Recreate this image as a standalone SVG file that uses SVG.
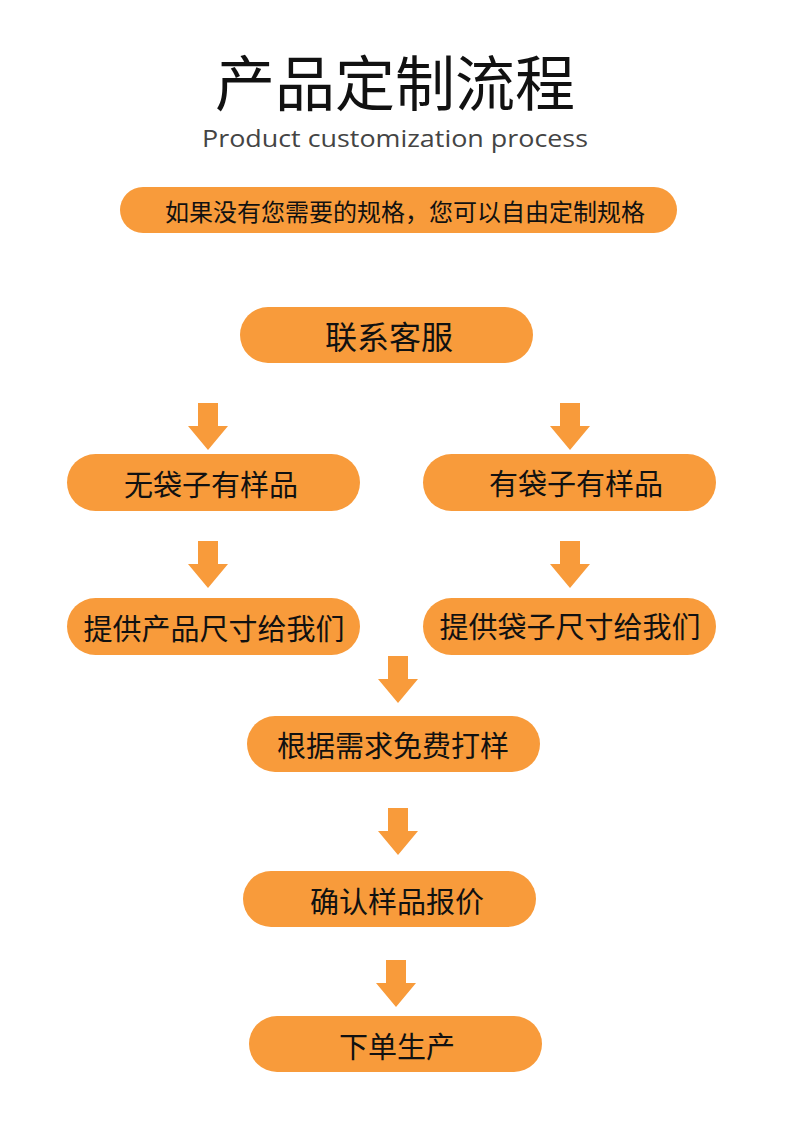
<svg xmlns="http://www.w3.org/2000/svg" width="790" height="1134" viewBox="0 0 790 1134">
<defs>
<style>
.p{fill:#F89B3B}
.t{font-family:"Noto Sans CJK SC","Noto Sans",sans-serif;fill:#111;text-anchor:middle;dominant-baseline:central}
.a{fill:#F89B3B}
</style>
<path id="arr" d="M-10,0 H10 V23 H20 L0,47 L-20,23 H-10 Z"/>
</defs>
<rect width="790" height="1134" fill="#fff"/>
<g id="title">
<text x="395" y="79" class="t" font-size="60">产品定制流程</text>
<text x="395" y="138" class="t" font-size="23" textLength="386" lengthAdjust="spacingAndGlyphs" style="fill:#444;font-family:'Open Sans','Noto Sans',sans-serif">Product customization process</text>
</g>
<g id="n0"><rect class="p" x="120" y="187" width="557" height="46" rx="23"/><text class="t" x="405" y="210" font-size="24">如果没有您需要的规格，您可以自由定制规格</text></g>
<g id="n1"><rect class="p" x="240" y="307" width="293" height="56" rx="28"/><text class="t" x="389" y="335" font-size="32">联系客服</text></g>
<g id="n2"><rect class="p" x="67" y="454" width="293" height="57" rx="28.5"/><text class="t" x="211" y="483" font-size="29">无袋子有样品</text></g>
<g id="n3"><rect class="p" x="423" y="454" width="293" height="57" rx="28.5"/><text class="t" x="576" y="482" font-size="29">有袋子有样品</text></g>
<g id="n4"><rect class="p" x="67" y="598" width="293" height="57" rx="28.5"/><text class="t" x="214" y="627" font-size="29">提供产品尺寸给我们</text></g>
<g id="n5"><rect class="p" x="423" y="598" width="293" height="57" rx="28.5"/><text class="t" x="570" y="625" font-size="29">提供袋子尺寸给我们</text></g>
<g id="n6"><rect class="p" x="247" y="716" width="293" height="56" rx="28"/><text class="t" x="393" y="744" font-size="29">根据需求免费打样</text></g>
<g id="n7"><rect class="p" x="243" y="871" width="293" height="56" rx="28"/><text class="t" x="397" y="900" font-size="29">确认样品报价</text></g>
<g id="n8"><rect class="p" x="249" y="1016" width="293" height="56" rx="28"/><text class="t" x="397" y="1045" font-size="29">下单生产</text></g>
<g id="connectors" class="a">
<use href="#arr" x="208" y="403"/>
<use href="#arr" x="570" y="403"/>
<use href="#arr" x="208" y="541"/>
<use href="#arr" x="570" y="541"/>
<use href="#arr" x="398" y="656"/>
<use href="#arr" x="398" y="808"/>
<use href="#arr" x="396" y="960"/>
</g>
</svg>
